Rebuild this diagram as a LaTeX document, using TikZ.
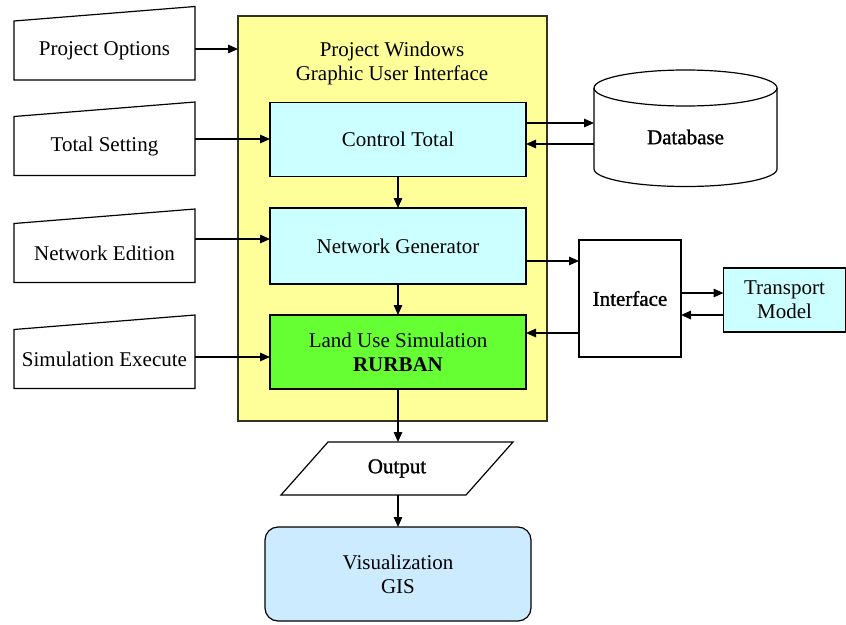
\documentclass[tikz,border=0pt]{standalone}
\usepackage{fontspec}
\setmainfont{Liberation Serif}
\newfontfamily\heavyserif[FakeBold=1.2]{Liberation Serif}
\usetikzlibrary{arrows.meta,calc}

\definecolor{guiyellow}{HTML}{FFFF99}
\definecolor{guiframe}{HTML}{333322}
\definecolor{boxcyan}{HTML}{CCFFFF}
\definecolor{simgreen}{HTML}{66FF33}
\definecolor{visblue}{HTML}{CCEBFF}

\tikzset{
  arr/.style={-{Triangle[length=10pt,width=8.5pt]}, line width=1.5pt},
  outline/.style={draw=black, line width=1.2pt},
  shell/.style={inner sep=0pt, outer sep=0pt, align=center, text=black},
  procbox/.style={shell, outline, fill=boxcyan, minimum width=256pt},
  manual/.style={shell, minimum width=181pt, minimum height=59pt},
}

\begin{document}
\begin{tikzpicture}[x=1pt, y=-1pt, font=\fontsize{21}{24}\selectfont]
\useasboundingbox (0,0) rectangle (846,624);

% GUI frame with its title
\node[shell, draw=guiframe, line width=1.2pt, fill=guiyellow,
      minimum width=309pt, minimum height=405pt] (gui) at (392.5,218.5) {};
\node[shell] (guititle) at (392,63.5) {Project Windows\\Graphic User Interface};

% processes inside the GUI
\node[procbox, minimum height=74pt] (ct) at (398,139.5) {Control Total};
\node[procbox, minimum height=76pt] (ng) at (398,246) {Network Generator};
\node[procbox, fill=simgreen, minimum height=74pt] (lu) at (398,352)
  {Land Use Simulation\\\textbf{RURBAN}};

% manual inputs (slanted top edge)
\foreach \nm/\yy/\txt in {po/50.5/Project Options, ts/146/Total Setting,
                          ne/253/Network Edition, se/359/Simulation Execute}{
  \node[manual] (\nm) at (104.5,\yy) {\txt};
  \draw[outline] (\nm.south west) -- (\nm.south east)
     -- ([yshift=14.5pt]\nm.north east) -- (\nm.north west) -- cycle;
}

% database cylinder
\node[shell, minimum width=183pt, minimum height=117pt] (db) at (685.5,128.5) {};
\draw[outline, fill=white]
  (594,88) -- (594,169) arc[start angle=180, end angle=360, x radius=91.5pt, y radius=17.5pt]
  -- (777,88) arc[start angle=0, end angle=180, x radius=91.5pt, y radius=18pt] -- cycle;
\draw[outline] (594,88) arc[start angle=180, end angle=360, x radius=91.5pt, y radius=18pt];
\node[shell, font=\fontsize{21}{24}\heavyserif] (dbtext) at (685.5,137) {Database};

% interface and transport model
\node[shell, outline, fill=white, minimum width=102pt, minimum height=117pt,
      font=\fontsize{21}{24}\heavyserif] (itf) at (630,298.5) {Interface};
\node[shell, outline, fill=boxcyan, minimum width=122pt, minimum height=64pt] (tm)
  at (784.5,300) {Transport\\Model};

% output and visualization
\node[shell, minimum width=232pt, minimum height=53pt,
      font=\fontsize{21}{24}\heavyserif] (out) at (397,468.5) {Output};
\draw[outline] (out.south west) -- ([xshift=-47pt]out.south east)
  -- (out.north east) -- ([xshift=47pt]out.north west) -- cycle;
\node[shell, outline, fill=visblue, rounded corners=13pt,
      minimum width=266pt, minimum height=94pt] (vis) at (398,574) {Visualization\\GIS};

% inputs into the GUI
\coordinate (a1) at ([yshift=1.5pt]po.east);
\draw[arr] (a1) -- (a1 -| gui.west);
\coordinate (a2) at ([yshift=0.5pt]ct.west);
\draw[arr] (a2 -| ts.east) -- (a2);
\coordinate (a3) at ([yshift=14pt]ne.east);
\draw[arr] (a3) -- (a3 -| ng.west);
\coordinate (a4) at ([yshift=2pt]se.east);
\draw[arr] (a4) -- (a4 -| lu.west);

% main flow
\draw[arr] (ct) -- (ng);
\draw[arr] (ng) -- (lu);
\draw[arr] (lu) -- (lu |- out.north);
\draw[arr] (lu |- out.south) -- (lu |- vis.north);

% database exchange
\coordinate (d1) at ([yshift=16.5pt]ct.east);
\draw[arr] (d1) -- (d1 -| db.west);
\coordinate (d2) at ([yshift=-4.5pt]ct.east);
\draw[arr] (d2 -| db.west) -- (d2);

% interface exchange
\coordinate (i1) at ([yshift=-15pt]ng.east);
\draw[arr] (i1) -- (i1 -| itf.west);
\coordinate (i2) at ([yshift=19pt]lu.east);
\draw[arr] (i2 -| itf.west) -- (i2);
\coordinate (t1) at ([yshift=7pt]tm.west);
\draw[arr] (t1 -| itf.east) -- (t1);
\coordinate (t2) at ([yshift=-15pt]tm.west);
\draw[arr] (t2) -- (t2 -| itf.east);
\end{tikzpicture}
\end{document}
